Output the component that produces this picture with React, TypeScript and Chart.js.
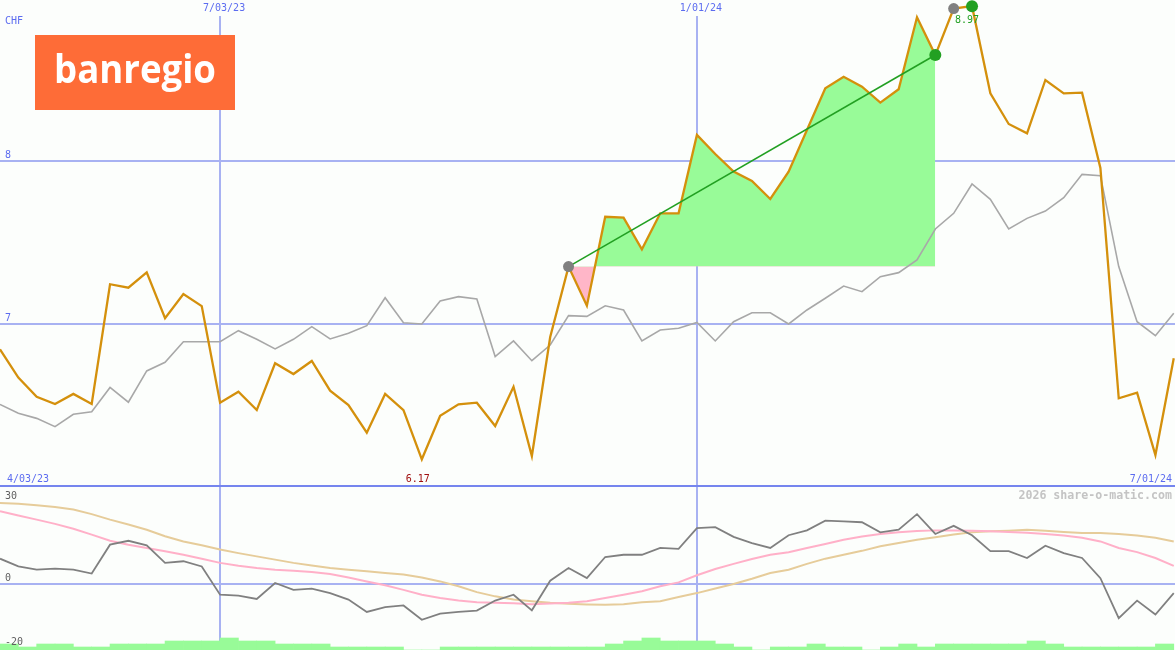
import React, { useEffect, useRef } from 'react';
import { Chart, registerables } from 'chart.js';

Chart.register(...registerables);

// Weekly samples, week 0 = start of the chart
const weeks: number[] = Array.from({ length: 65 }, (_, i) => i);

// Share price (CHF), orange line
const sharePrice: number[] = [
  6.845, 6.671, 6.554, 6.509, 6.571, 6.509, 7.244, 7.223, 7.317, 7.035,
  7.184, 7.110, 6.517, 6.585, 6.472, 6.759, 6.693, 6.773, 6.591, 6.503,
  6.333, 6.571, 6.472, 6.170, 6.437, 6.507, 6.517, 6.374, 6.615, 6.190,
  6.920, 7.352, 7.112, 7.658, 7.652, 7.458, 7.679, 7.679, 8.160, 8.043,
  7.935, 7.877, 7.767, 7.935, 8.190, 8.446, 8.517, 8.456, 8.358, 8.440,
  8.882, 8.650, 8.935, 8.950, 8.415, 8.227, 8.170, 8.497, 8.415, 8.419,
  7.957, 6.544, 6.579, 6.196, 6.790,
];

// Comparison index (rebased), grey line
const indexPrice: number[] = [
  6.507, 6.452, 6.421, 6.370, 6.446, 6.462, 6.611, 6.520, 6.712, 6.765,
  6.891, 6.891, 6.891, 6.959, 6.906, 6.847, 6.906, 6.984, 6.908, 6.943,
  6.990, 7.161, 7.008, 7.000, 7.141, 7.168, 7.153, 6.800, 6.896, 6.775,
  6.871, 7.051, 7.047, 7.112, 7.086, 6.896, 6.963, 6.974, 7.010, 6.896,
  7.014, 7.069, 7.069, 7.000, 7.086, 7.158, 7.233, 7.198, 7.290, 7.315,
  7.393, 7.583, 7.679, 7.859, 7.765, 7.583, 7.648, 7.693, 7.775, 7.918,
  7.910, 7.352, 7.014, 6.928, 7.066,
];

// Lower panel: momentum (dark grey)
const momentum: number[] = [
  7.8, 5.4, 4.4, 4.7, 4.4, 3.2, 12.1, 13.3, 11.9, 6.5,
  7.0, 5.4, -3.3, -3.6, -4.6, 0.3, -1.8, -1.4, -2.8, -4.8,
  -8.6, -7.1, -6.6, -11.0, -9.1, -8.6, -8.2, -5.1, -3.3, -8.1,
  1.0, 4.9, 1.8, 8.3, 9.0, 9.0, 11.1, 10.8, 17.2, 17.5,
  14.5, 12.6, 11.1, 15.0, 16.5, 19.5, 19.3, 19.0, 15.9, 16.7,
  21.5, 15.4, 17.9, 15.0, 10.1, 10.1, 8.0, 11.8, 9.5, 8.0,
  1.8, -10.5, -5.1, -9.4, -2.8,
];

// Lower panel: fast average (pink)
const fastAverage: number[] = [
  22.4, 21.1, 19.8, 18.5, 17.0, 15.2, 13.3, 12.1, 11.1, 10.1,
  9.0, 7.8, 6.5, 5.6, 4.9, 4.4, 4.1, 3.7, 3.1, 2.0,
  0.8, -0.4, -1.8, -3.3, -4.3, -5.1, -5.6, -5.8, -5.9, -6.2,
  -6.0, -5.8, -5.3, -4.3, -3.3, -2.2, -0.7, 0.5, 2.7, 4.6,
  6.2, 7.7, 9.0, 9.8, 11.1, 12.3, 13.6, 14.6, 15.4, 15.9,
  16.3, 16.5, 16.5, 16.4, 16.2, 16.0, 15.8, 15.4, 14.9, 14.2,
  13.1, 11.1, 9.8, 8.0, 5.6,
];

// Lower panel: slow average (tan)
const slowAverage: number[] = [
  24.9, 24.7, 24.2, 23.7, 22.9, 21.5, 19.8, 18.3, 16.7, 14.7,
  13.1, 11.9, 10.6, 9.5, 8.5, 7.5, 6.5, 5.7, 4.9, 4.4,
  3.9, 3.4, 2.9, 2.0, 0.8, -0.7, -2.5, -3.8, -4.8, -5.3,
  -5.8, -6.1, -6.3, -6.4, -6.2, -5.6, -5.3, -4.0, -2.8, -1.4,
  0.0, 1.6, 3.4, 4.4, 6.2, 7.8, 9.0, 10.2, 11.6, 12.6,
  13.6, 14.4, 15.2, 15.9, 16.2, 16.4, 16.7, 16.4, 16.0, 15.7,
  15.7, 15.4, 14.9, 14.2, 13.1,
];

// Weekly volume (relative levels)
const volume: number[] = [
  2, 1, 2, 2, 1, 1, 2, 2, 2, 3,
  3, 3, 4, 3, 3, 2, 2, 2, 1, 1,
  1, 1, 0, 0, 1, 1, 1, 1, 1, 1,
  1, 1, 1, 2, 3, 4, 3, 3, 3, 2,
  1, 0, 1, 1, 2, 1, 1, 0, 1, 2,
  1, 2, 2, 2, 2, 2, 3, 2, 1, 1,
  1, 1, 1, 2,
];

// Trend window (week indices) and markers
const trendStart = 31;
const trendEnd = 51;
const highWeek = 53;
const highBeforeWeek = 52;

// Axis / label texts
const currency = 'CHF';
const priceTicks: number[] = [7, 8];
const dateLines: number[] = [12, 38];
const dateLineLabels: string[] = ['7/03/23', '1/01/24'];
const startLabel = '4/03/23';
const endLabel = '7/01/24';
const lowLabel = '6.17';
const lowWeek = 23;
const highLabel = '8.97';
const lowerTicks: number[] = [30, 0, -20];
const watermark = '2026 share-o-matic.com';
const logoText = 'banregio';

const W = 1175;
const H = 650;
const STEP = 18.34;

const BLUE_TXT = '#5c6cf0';
const GRID = '#a8b2f2';
const MONO = '"DejaVu Sans Mono", monospace';

export default function App() {
  const ref = useRef<HTMLCanvasElement | null>(null);

  useEffect(() => {
    const canvas = ref.current;
    if (!canvas) return;

    const pts = (arr: number[]) => arr.map((v, i) => ({ x: weeks[i], y: v }));
    const fillPts = sharePrice
      .map((v, i) => ({ x: weeks[i], y: v }))
      .filter((p) => p.x >= trendStart && p.x <= trendEnd);
    const base = sharePrice[trendStart];

    const decor = {
      id: 'decor',
      beforeDraw(chart: any) {
        const c = chart.ctx;
        c.save();
        c.fillStyle = '#fcfefc';
        c.fillRect(0, 0, chart.width, chart.height);
        c.restore();
      },
      beforeDatasetsDraw(chart: any) {
        const c = chart.ctx;
        const sx = chart.scales.x;
        const ym = chart.scales.yMain;
        const yl = chart.scales.yLow;
        c.save();
        c.lineWidth = 2;
        c.strokeStyle = GRID;
        for (const d of dateLines) {
          const px = Math.round(sx.getPixelForValue(d));
          c.beginPath();
          c.moveTo(px, 16);
          c.lineTo(px, H);
          c.stroke();
        }
        for (const t of priceTicks) {
          const py = Math.round(ym.getPixelForValue(t));
          c.beginPath();
          c.moveTo(0, py);
          c.lineTo(W, py);
          c.stroke();
        }
        const z = Math.round(yl.getPixelForValue(0));
        c.beginPath();
        c.moveTo(0, z);
        c.lineTo(W, z);
        c.stroke();
        // panel divider
        c.strokeStyle = '#7585ee';
        const dv = Math.round(ym.getPixelForValue(6.0)) - 1;
        c.beginPath();
        c.moveTo(0, dv);
        c.lineTo(W, dv);
        c.stroke();
        c.restore();
      },
      afterDatasetsDraw(chart: any) {
        const c = chart.ctx;
        const sx = chart.scales.x;
        const ym = chart.scales.yMain;
        const yl = chart.scales.yLow;
        c.save();
        // logo
        c.fillStyle = '#fe6c37';
        c.fillRect(35, 35, 200, 75);
        c.fillStyle = '#ffffff';
        c.font = '700 40px "Open Sans", sans-serif';
        c.textAlign = 'center';
        c.textBaseline = 'alphabetic';
        const mw = c.measureText(logoText).width;
        c.save();
        c.translate(135, 83);
        c.scale(162 / mw, 1);
        c.fillText(logoText, 0, 0);
        c.restore();

        c.font = '10px ' + MONO;
        c.textBaseline = 'middle';
        c.fillStyle = BLUE_TXT;
        c.textAlign = 'left';
        c.fillText(currency, 5, 21);
        for (const t of priceTicks) {
          c.fillText(String(t), 5, ym.getPixelForValue(t) - 6);
        }
        c.textAlign = 'center';
        dateLines.forEach((d, k) => {
          c.fillText(dateLineLabels[k], sx.getPixelForValue(d) + 4, 8);
        });
        c.textAlign = 'left';
        c.fillText(startLabel, 7, 479);
        c.textAlign = 'right';
        c.fillText(endLabel, 1172, 479);
        c.textAlign = 'center';
        c.fillStyle = '#a01010';
        c.fillText(lowLabel, sx.getPixelForValue(lowWeek) - 4, 479);
        c.fillStyle = '#22a022';
        c.fillText(highLabel, sx.getPixelForValue(highWeek) - 5, 20);

        c.fillStyle = '#606060';
        c.textAlign = 'left';
        c.fillText(String(lowerTicks[0]), 5, 496);
        c.fillText(String(lowerTicks[1]), 5, yl.getPixelForValue(0) - 6);
        c.fillText(String(lowerTicks[2]), 5, 642);

        c.fillStyle = '#c4c4c4';
        c.font = 'bold 11.6px ' + MONO;
        c.textAlign = 'right';
        c.fillText(watermark, 1172, 496);
        c.restore();
      },
    };

    const chart = new Chart(canvas, {
      type: 'line',
      data: {
        datasets: [
          {
            label: 'gain',
            data: fillPts,
            yAxisID: 'yMain',
            borderWidth: 0,
            pointRadius: 0,
            fill: { target: { value: base }, above: '#98fb98', below: '#ffb6c8' },
            order: 20,
          } as any,
          {
            label: 'index',
            data: pts(indexPrice),
            yAxisID: 'yMain',
            borderColor: '#a8a8a8',
            borderWidth: 1.6,
            pointRadius: 0,
            fill: false,
            order: 15,
          },
          {
            label: 'price',
            data: pts(sharePrice),
            yAxisID: 'yMain',
            borderColor: '#d4900c',
            borderWidth: 2.3,
            pointRadius: 0,
            fill: false,
            order: 10,
          },
          {
            label: 'trend',
            data: [
              { x: weeks[trendStart], y: sharePrice[trendStart] },
              { x: weeks[trendEnd], y: sharePrice[trendEnd] },
            ],
            yAxisID: 'yMain',
            borderColor: '#22a022',
            borderWidth: 1.6,
            pointRadius: 0,
            fill: false,
            order: 8,
          },
          {
            label: 'greyMarks',
            data: [
              { x: weeks[trendStart], y: sharePrice[trendStart] },
              { x: weeks[highBeforeWeek], y: sharePrice[highBeforeWeek] },
            ],
            yAxisID: 'yMain',
            showLine: false,
            pointRadius: 5.5,
            pointBackgroundColor: '#808080',
            pointBorderWidth: 0,
            order: 5,
          },
          {
            label: 'greenMarks',
            data: [
              { x: weeks[trendEnd], y: sharePrice[trendEnd] },
              { x: weeks[highWeek], y: sharePrice[highWeek] },
            ],
            yAxisID: 'yMain',
            showLine: false,
            pointRadius: 6,
            pointBackgroundColor: '#22a022',
            pointBorderWidth: 0,
            order: 4,
          },
          {
            label: 'slow',
            data: pts(slowAverage),
            yAxisID: 'yLow',
            borderColor: '#e6cc9a',
            borderWidth: 2,
            pointRadius: 0,
            fill: false,
            order: 14,
          },
          {
            label: 'fast',
            data: pts(fastAverage),
            yAxisID: 'yLow',
            borderColor: '#ffb0c8',
            borderWidth: 2,
            pointRadius: 0,
            fill: false,
            order: 13,
          },
          {
            label: 'momentum',
            data: pts(momentum),
            yAxisID: 'yLow',
            borderColor: '#808080',
            borderWidth: 1.8,
            pointRadius: 0,
            fill: false,
            order: 12,
          },
          {
            type: 'bar',
            label: 'volume',
            data: volume.map((v, i) => ({ x: weeks[i] + 0.5, y: v })),
            yAxisID: 'yVol',
            backgroundColor: '#98fb98',
            borderWidth: 0,
            barPercentage: 1,
            categoryPercentage: 1,
            grouped: false,
            order: 11,
          } as any,
        ],
      },
      options: {
        responsive: false,
        animation: false,
        devicePixelRatio: 1,
        layout: { padding: 0, autoPadding: false },
        elements: { line: { tension: 0 }, point: { radius: 0 } },
        plugins: { legend: { display: false }, tooltip: { enabled: false }, title: { display: false } },
        events: [],
        scales: {
          x: { type: 'linear', min: 0, max: W / STEP, display: false, offset: false },
          yMain: { type: 'linear', min: 5.0, max: 8 + 161 / 163, display: false },
          yLow: { type: 'linear', min: -(H - 584) / 3.25, max: 584 / 3.25, display: false },
          yVol: { type: 'linear', min: 0, max: H / 3, display: false },
        },
      } as any,
      plugins: [decor],
    });

    return () => chart.destroy();
  }, []);

  return (
    <div style={{ position: 'fixed', left: 0, top: 0, width: W, height: H, background: '#fcfefc' }}>
      <canvas ref={ref} width={W} height={H} style={{ display: 'block', width: W, height: H }} />
    </div>
  );
}
